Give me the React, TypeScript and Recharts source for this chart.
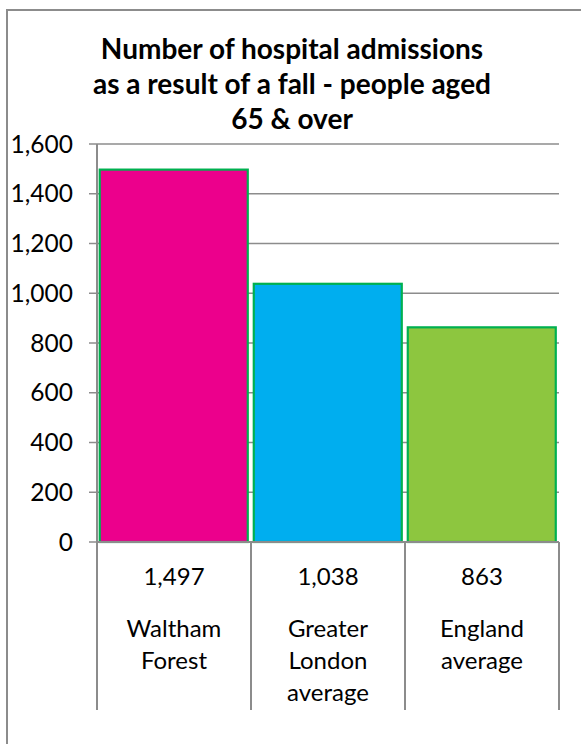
import { BarChart, Bar, XAxis, YAxis, CartesianGrid } from 'recharts';

// chart values
const categories = ['Waltham Forest', 'Greater London average', 'England average'];
const admissions = [1497, 1038, 863];
const categoryLines = [['Waltham', 'Forest'], ['Greater', 'London', 'average'], ['England', 'average']];
const barColors = ['#EC008C', '#00AEEF', '#8DC63F'];
const yTicks = [0, 200, 400, 600, 800, 1000, 1200, 1400, 1600];
const titleLines = ['Number of hospital admissions', 'as a result of a fall - people aged', '65 & over'];

const chartData = categories.map((name, i) => ({
  name,
  value: admissions[i],
  lines: categoryLines[i],
}));

const FONT = 'Lato, "Open Sans", sans-serif';
const GRID = '#8c8c8c';

const fmt = (v: number) => v.toLocaleString('en-US');

// Excel-style category table under the axis: value row + wrapped names, with separators
const CategoryTick = (props: any) => {
  const { x, y, payload, index } = props;
  const half = payload.offset || 0;
  const row = chartData[index];
  return (
    <g>
      <line x1={x - half} y1={y} x2={x - half} y2={y + 168} stroke={GRID} strokeWidth={2} />
      <line x1={x + half} y1={y} x2={x + half} y2={y + 168} stroke={GRID} strokeWidth={2} />
      <text x={x} y={y + 43} textAnchor="middle" fontSize={24} fontFamily={FONT} fill="#000">
        {fmt(row.value)}
      </text>
      {row.lines.map((ln: string, k: number) => (
        <text key={k} x={x} y={y + 95 + k * 32} textAnchor="middle" fontSize={24} fontFamily={FONT} fill="#000">
          {ln}
        </text>
      ))}
    </g>
  );
};

const App = () => {
  return (
    <div style={{ position: 'fixed', left: 0, top: 0, width: 581, height: 744, overflow: 'hidden', background: '#fff' }}>
      <div
        style={{
          position: 'absolute',
          left: 6,
          top: 9,
          width: 700,
          height: 800,
          border: `2px solid ${GRID}`,
          boxSizing: 'border-box',
        }}
      />
      <div
        style={{
          position: 'absolute',
          left: 0,
          top: 31,
          width: 584,
          textAlign: 'center',
          fontFamily: FONT,
          fontWeight: 700,
          fontSize: 28,
          lineHeight: '35px',
          color: '#000',
          whiteSpace: 'nowrap',
        }}
      >
        {titleLines.map((t) => (
          <div key={t}>{t}</div>
        ))}
      </div>
      <div style={{ position: 'absolute', left: 0, top: 0 }}>
        <BarChart
          width={581}
          height={744}
          data={chartData}
          margin={{ top: 144, right: 22, bottom: 12, left: 0 }}
          barCategoryGap="1.8%"
        >
          <CartesianGrid vertical={false} stroke={GRID} strokeWidth={1.5} />
          <YAxis
            width={97}
            domain={[0, 1600]}
            ticks={yTicks}
            tickFormatter={fmt}
            tickSize={8}
            tickMargin={16}
            axisLine={{ stroke: GRID, strokeWidth: 2 }}
            tickLine={{ stroke: GRID, strokeWidth: 1.5 }}
            tick={{ fontSize: 24.5, fontFamily: FONT, fill: '#000' }}
          />
          <XAxis
            dataKey="name"
            height={190}
            interval={0}
            tickSize={0}
            tickMargin={0}
            tickLine={false}
            axisLine={{ stroke: GRID, strokeWidth: 2 }}
            tick={<CategoryTick />}
          />
          <Bar
            dataKey="value"
            isAnimationActive={false}
            shape={(p: any) => (
              <rect x={p.x} y={p.y} width={p.width} height={p.height} fill={barColors[p.index]} stroke="#00B050" strokeWidth={2.2} />
            )}
          />
        </BarChart>
      </div>
    </div>
  );
};

export default App;
